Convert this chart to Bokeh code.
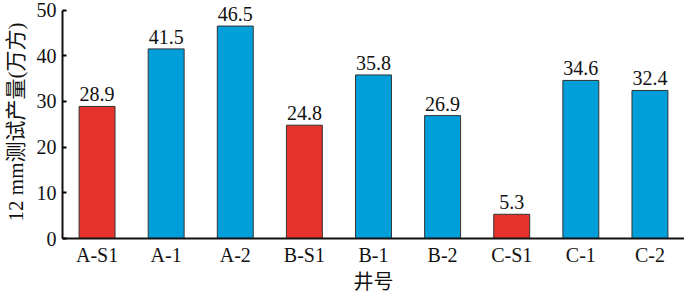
from bokeh.plotting import figure
from bokeh.models import ColumnDataSource, FactorRange, Range1d, SingleIntervalTicker, LabelSet, Title
from bokeh.embed import file_html
from bokeh.resources import INLINE

wells = ["A-S1", "A-1", "A-2", "B-S1", "B-1", "B-2", "C-S1", "C-1", "C-2"]
production = [28.9, 41.5, 46.5, 24.8, 35.8, 26.9, 5.3, 34.6, 32.4]
well_type = ["S1", "std", "std", "S1", "std", "std", "S1", "std", "std"]
y_label = "12 mm测试产量(万方)"
x_label = "井号"

RED = "#E5332C"
BLUE = "#009FDA"
colors = [RED if t == "S1" else BLUE for t in well_type]
labels = [f"{v:.1f}" for v in production]

src = ColumnDataSource(dict(x=wells, y=production, c=colors, t=labels))

SERIF = "Liberation Serif, Noto Sans CJK SC"

p = figure(width=684, height=292, output_backend="svg", toolbar_location=None,
           x_range=FactorRange(*wells, range_padding=0), y_range=Range1d(0, 51),
           min_border_left=54, min_border_right=0, min_border_top=5, min_border_bottom=0)
p.outline_line_color = None
p.grid.grid_line_color = None

p.vbar(x="x", top="y", width=0.52, source=src, fill_color="c",
       line_color="#333333", line_width=1)
p.add_layout(LabelSet(x="x", y="y", text="t", source=src, text_align="center",
                      text_baseline="bottom", y_offset=5, text_font=SERIF,
                      text_font_size="20px", text_color="#111111"))

ya = p.yaxis[0]
ya.bounds = (0, 50)
ya.ticker = SingleIntervalTicker(interval=10, num_minor_ticks=0)
ya.axis_line_width = 2
ya.axis_line_color = "#111111"
ya.major_tick_in = 4
ya.major_tick_out = 0
ya.major_tick_line_width = 2
ya.minor_tick_line_color = None
ya.major_label_standoff = 6
ya.major_label_text_font = SERIF
ya.major_label_text_font_size = "20px"
ya.major_label_text_color = "#111111"
ya.axis_label = y_label
ya.axis_label_text_font = SERIF
ya.axis_label_text_font_size = "21px"
ya.axis_label_text_font_style = "normal"
ya.axis_label_text_color = "#111111"
ya.axis_label_standoff = 6

xa = p.xaxis[0]
xa.axis_line_width = 2
xa.axis_line_color = "#111111"
xa.major_tick_line_color = None
xa.minor_tick_line_color = None
xa.major_tick_in = 0
xa.major_tick_out = 0
xa.major_label_standoff = 5
xa.major_label_text_font = SERIF
xa.major_label_text_font_size = "20px"
xa.major_label_text_color = "#111111"

p.add_layout(Title(text=x_label, align="center", text_font=SERIF, text_font_size="20px",
                   text_font_style="normal", text_color="#111111", standoff=0,
                   text_line_height=1.0), "below")

open("out.html", "w").write(file_html(p, INLINE))
